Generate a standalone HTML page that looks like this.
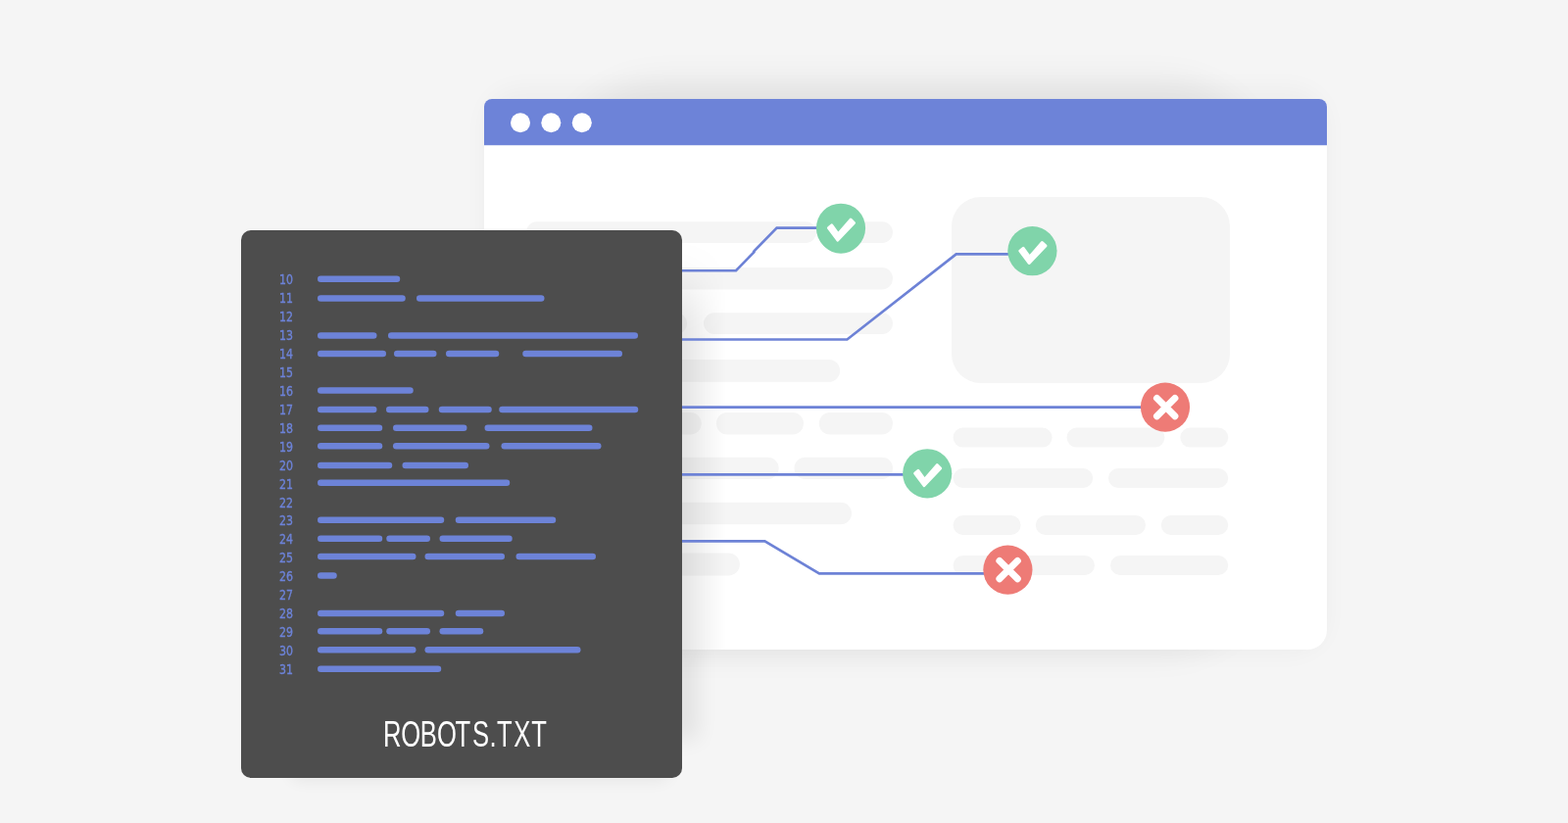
<!DOCTYPE html>
<html lang="en">
<head>
<meta charset="utf-8">
<title>ROBOTS.TXT</title>
<style>
html,body{margin:0;padding:0;background:#f5f5f5;}
body{width:1600px;height:840px;overflow:hidden;position:relative;font-family:"Liberation Sans",sans-serif;}
svg{position:absolute;left:0;top:0;display:block;}
.num{font-family:"DejaVu Sans Condensed","DejaVu Sans","Liberation Sans",sans-serif;font-stretch:condensed;font-size:13.7px;fill:#6d83d8;stroke:#6d83d8;stroke-width:0.35px;}
.title{font-family:"Liberation Sans",sans-serif;font-size:36.1px;fill:#ffffff;}
</style>
</head>
<body>
<svg width="1600" height="840" viewBox="0 0 1600 840">
<defs>
<filter id="bsh" filterUnits="userSpaceOnUse" x="380" y="0" width="1100" height="800"><feGaussianBlur stdDeviation="17"/></filter>
<filter id="bsh2" filterUnits="userSpaceOnUse" x="380" y="0" width="1100" height="800"><feGaussianBlur stdDeviation="12"/></filter>
<filter id="ssh" filterUnits="userSpaceOnUse" x="600" y="600" width="240" height="240"><feGaussianBlur stdDeviation="11"/></filter>
<clipPath id="below"><rect x="696" y="663" width="200" height="177"/></clipPath>
<filter id="csh" filterUnits="userSpaceOnUse" x="200" y="600" width="600" height="240"><feGaussianBlur stdDeviation="8"/></filter>
<filter id="vsh" filterUnits="userSpaceOnUse" x="680" y="150" width="80" height="800"><feGaussianBlur stdDeviation="0 26"/></filter>
<filter id="gray" filterUnits="userSpaceOnUse" x="240" y="230" width="460" height="570"><feOffset dx="0" dy="0"/></filter>
<linearGradient id="cg" gradientUnits="userSpaceOnUse" x1="696" x2="741" y1="0" y2="0">
<stop offset="0" stop-color="#000" stop-opacity="0.105"/>
<stop offset="0.55" stop-color="#000" stop-opacity="0.04"/>
<stop offset="1" stop-color="#000" stop-opacity="0"/>
</linearGradient>
<linearGradient id="cg2" gradientUnits="userSpaceOnUse" x1="696" x2="736" y1="0" y2="0">
<stop offset="0" stop-color="#000" stop-opacity="0.04"/>
<stop offset="1" stop-color="#000" stop-opacity="0"/>
</linearGradient>
<clipPath id="bclip"><path d="M494 109a8 8 0 0 1 8-8h844a8 8 0 0 1 8 8V643a20 20 0 0 1-20 20H494z"/></clipPath>
</defs>
<rect width="1600" height="840" fill="#f5f5f5"/>
<!-- browser shadow -->
<rect x="494" y="90" width="860" height="577" rx="36" fill="#000" opacity="0.032" filter="url(#bsh2)"/>
<rect x="566" y="80" width="730" height="588" rx="110" fill="#000" opacity="0.05" filter="url(#bsh)"/>
<!-- browser -->
<path d="M494 109a8 8 0 0 1 8-8h844a8 8 0 0 1 8 8V643a20 20 0 0 1-20 20H494z" fill="#ffffff"/>
<path d="M494 109a8 8 0 0 1 8-8h844a8 8 0 0 1 8 8V148.2H494z" fill="#6d83d8"/>
<circle cx="531" cy="125.2" r="10" fill="#fff"/>
<circle cx="562.3" cy="125.2" r="10" fill="#fff"/>
<circle cx="593.8" cy="125.2" r="10" fill="#fff"/>
<g clip-path="url(#bclip)">
<g fill="#f5f5f5">

<rect x="537.00" y="226.30" width="296.00" height="21.60" rx="10.80"/>
<rect x="846.00" y="226.30" width="65.00" height="21.60" rx="10.80"/>
<rect x="537.00" y="273.00" width="374.00" height="22.50" rx="11.25"/>
<rect x="537.00" y="319.20" width="164.00" height="21.80" rx="10.90"/>
<rect x="718.00" y="319.20" width="193.00" height="21.80" rx="10.90"/>
<rect x="537.00" y="367.00" width="320.10" height="22.80" rx="11.40"/>
<rect x="537.00" y="421.00" width="178.70" height="22.50" rx="11.25"/>
<rect x="730.90" y="421.00" width="89.10" height="22.50" rx="11.25"/>
<rect x="835.80" y="421.00" width="75.20" height="22.50" rx="11.25"/>
<rect x="537.00" y="466.70" width="257.60" height="22.40" rx="11.20"/>
<rect x="810.50" y="466.70" width="100.50" height="22.40" rx="11.20"/>
<rect x="537.00" y="512.70" width="332.00" height="22.50" rx="11.25"/>
<rect x="537.00" y="564.60" width="217.90" height="22.80" rx="11.40"/>
<rect x="971" y="201" width="284" height="190" rx="30"/>
<rect x="972.60" y="436.50" width="101.00" height="20.10" rx="10.05"/>
<rect x="1088.60" y="436.50" width="99.80" height="20.10" rx="10.05"/>
<rect x="1204.40" y="436.50" width="48.80" height="20.10" rx="10.05"/>
<rect x="972.60" y="478.00" width="142.60" height="20.00" rx="10.00"/>
<rect x="1131.00" y="478.00" width="122.20" height="20.00" rx="10.00"/>
<rect x="972.60" y="526.00" width="69.00" height="20.00" rx="10.00"/>
<rect x="1056.80" y="526.00" width="112.20" height="20.00" rx="10.00"/>
<rect x="1184.80" y="526.00" width="68.40" height="20.00" rx="10.00"/>
<rect x="972.60" y="567.00" width="144.40" height="20.00" rx="10.00"/>
<rect x="1133.00" y="567.00" width="120.20" height="20.00" rx="10.00"/>
</g>
<rect x="690" y="298" width="52" height="560" fill="url(#cg)" filter="url(#vsh)"/>
</g>
<g clip-path="url(#below)"><rect x="650" y="650" width="62" height="105" fill="#000" opacity="0.075" filter="url(#ssh)"/></g>
<g fill="none" stroke="#6d82d6" stroke-width="2.6" stroke-linejoin="miter">
<path d="M690 276.2H751L770.1 256.6M768.5 257.3L792.6 232.6H840"/>
<path d="M690 346.45H864.4L975.7 259.4H1040"/>
<path d="M690 415.6H1170"/>
<path d="M690 484.4H930"/>
<path d="M690 552.4H780.4L836 585.4H1010"/>
</g>
<circle cx="858" cy="235.3" r="23.4" fill="#80d4aa"/>
<circle cx="858" cy="232.8" r="25.1" fill="#80d4aa"/><polygon points="845.45,232.63 848.72,229.89 855.19,238.92 868.00,224.18 871.49,227.55 854.83,245.08" fill="#fff" stroke="#fff" stroke-width="3.0" stroke-linejoin="round"/>
<circle cx="1053.4" cy="256.2" r="25.1" fill="#80d4aa"/><polygon points="1040.85,256.03 1044.12,253.29 1050.59,262.32 1063.40,247.58 1066.89,250.95 1050.23,268.48" fill="#fff" stroke="#fff" stroke-width="3.0" stroke-linejoin="round"/>
<circle cx="946.2" cy="483.3" r="25.1" fill="#80d4aa"/><polygon points="933.65,483.13 936.92,480.39 943.39,489.42 956.20,474.68 959.69,478.05 943.03,495.58" fill="#fff" stroke="#fff" stroke-width="3.0" stroke-linejoin="round"/>
<circle cx="1189" cy="415.6" r="25.1" fill="#ee7b76"/><path d="M1180.5 406.4L1198.9 424.8M1198.9 406.4L1180.5 424.8" fill="none" stroke="#fff" stroke-width="7" stroke-linecap="round"/>
<circle cx="1028.4" cy="581.6" r="25.1" fill="#ee7b76"/><path d="M1019.9 572.4L1038.3 590.8M1038.3 572.4L1019.9 590.8" fill="none" stroke="#fff" stroke-width="7" stroke-linecap="round"/>
<rect x="296" y="740" width="388" height="57" rx="10" fill="#000" opacity="0.06" filter="url(#csh)"/>
<rect x="246" y="235" width="450" height="559" rx="10" fill="#4d4d4d"/>
<g filter="url(#gray)">
<g class="num">
<text x="285" y="290.00" textLength="14" lengthAdjust="spacingAndGlyphs">10</text>
<text x="285" y="308.96" textLength="14" lengthAdjust="spacingAndGlyphs">11</text>
<text x="285" y="327.92" textLength="14" lengthAdjust="spacingAndGlyphs">12</text>
<text x="285" y="346.88" textLength="14" lengthAdjust="spacingAndGlyphs">13</text>
<text x="285" y="365.84" textLength="14" lengthAdjust="spacingAndGlyphs">14</text>
<text x="285" y="384.80" textLength="14" lengthAdjust="spacingAndGlyphs">15</text>
<text x="285" y="403.76" textLength="14" lengthAdjust="spacingAndGlyphs">16</text>
<text x="285" y="422.72" textLength="14" lengthAdjust="spacingAndGlyphs">17</text>
<text x="285" y="441.68" textLength="14" lengthAdjust="spacingAndGlyphs">18</text>
<text x="285" y="460.64" textLength="14" lengthAdjust="spacingAndGlyphs">19</text>
<text x="285" y="479.60" textLength="14" lengthAdjust="spacingAndGlyphs">20</text>
<text x="285" y="498.56" textLength="14" lengthAdjust="spacingAndGlyphs">21</text>
<text x="285" y="517.52" textLength="14" lengthAdjust="spacingAndGlyphs">22</text>
<text x="285" y="536.48" textLength="14" lengthAdjust="spacingAndGlyphs">23</text>
<text x="285" y="555.44" textLength="14" lengthAdjust="spacingAndGlyphs">24</text>
<text x="285" y="574.40" textLength="14" lengthAdjust="spacingAndGlyphs">25</text>
<text x="285" y="593.36" textLength="14" lengthAdjust="spacingAndGlyphs">26</text>
<text x="285" y="612.32" textLength="14" lengthAdjust="spacingAndGlyphs">27</text>
<text x="285" y="631.28" textLength="14" lengthAdjust="spacingAndGlyphs">28</text>
<text x="285" y="650.24" textLength="14" lengthAdjust="spacingAndGlyphs">29</text>
<text x="285" y="669.20" textLength="14" lengthAdjust="spacingAndGlyphs">30</text>
<text x="285" y="688.16" textLength="14" lengthAdjust="spacingAndGlyphs">31</text>
</g>
<text class="title" transform="translate(0 761.6) scale(0.71 1)" x="550.76 576.39 603.91 628.15 654.34 678.89 703.51 713.98 738.29 763.84" y="0">ROBOTS.TXT</text>
</g>
<g fill="#6d83d8">
<rect x="324.00" y="281.45" width="84.25" height="6.60" rx="3.30"/>
<rect x="324.00" y="301.20" width="89.75" height="6.60" rx="3.30"/>
<rect x="425.00" y="301.20" width="130.50" height="6.60" rx="3.30"/>
<rect x="324.00" y="339.20" width="60.50" height="6.60" rx="3.30"/>
<rect x="396.00" y="339.20" width="255.00" height="6.60" rx="3.30"/>
<rect x="324.00" y="357.70" width="70.00" height="6.60" rx="3.30"/>
<rect x="402.00" y="357.70" width="43.50" height="6.60" rx="3.30"/>
<rect x="455.00" y="357.70" width="54.25" height="6.60" rx="3.30"/>
<rect x="533.25" y="357.70" width="101.75" height="6.60" rx="3.30"/>
<rect x="324.00" y="395.20" width="97.75" height="6.60" rx="3.30"/>
<rect x="324.00" y="414.70" width="60.50" height="6.60" rx="3.30"/>
<rect x="394.00" y="414.70" width="43.50" height="6.60" rx="3.30"/>
<rect x="447.75" y="414.70" width="54.00" height="6.60" rx="3.30"/>
<rect x="509.25" y="414.70" width="142.00" height="6.60" rx="3.30"/>
<rect x="324.00" y="433.45" width="66.25" height="6.60" rx="3.30"/>
<rect x="401.00" y="433.45" width="75.50" height="6.60" rx="3.30"/>
<rect x="494.50" y="433.45" width="110.00" height="6.60" rx="3.30"/>
<rect x="324.00" y="451.95" width="66.25" height="6.60" rx="3.30"/>
<rect x="401.00" y="451.95" width="98.50" height="6.60" rx="3.30"/>
<rect x="511.50" y="451.95" width="102.00" height="6.60" rx="3.30"/>
<rect x="324.00" y="471.70" width="76.25" height="6.60" rx="3.30"/>
<rect x="410.50" y="471.70" width="67.50" height="6.60" rx="3.30"/>
<rect x="324.00" y="489.45" width="196.25" height="6.60" rx="3.30"/>
<rect x="324.00" y="527.45" width="129.25" height="6.60" rx="3.30"/>
<rect x="464.75" y="527.45" width="102.50" height="6.60" rx="3.30"/>
<rect x="324.00" y="546.45" width="66.25" height="6.60" rx="3.30"/>
<rect x="394.25" y="546.45" width="44.75" height="6.60" rx="3.30"/>
<rect x="448.50" y="546.45" width="74.25" height="6.60" rx="3.30"/>
<rect x="324.00" y="564.70" width="100.50" height="6.60" rx="3.30"/>
<rect x="433.50" y="564.70" width="81.50" height="6.60" rx="3.30"/>
<rect x="526.50" y="564.70" width="81.50" height="6.60" rx="3.30"/>
<rect x="324.00" y="584.20" width="19.75" height="6.60" rx="3.30"/>
<rect x="324.00" y="622.70" width="129.25" height="6.60" rx="3.30"/>
<rect x="464.75" y="622.70" width="50.25" height="6.60" rx="3.30"/>
<rect x="324.00" y="640.95" width="66.25" height="6.60" rx="3.30"/>
<rect x="394.25" y="640.95" width="44.75" height="6.60" rx="3.30"/>
<rect x="448.50" y="640.95" width="44.75" height="6.60" rx="3.30"/>
<rect x="324.00" y="659.95" width="100.50" height="6.60" rx="3.30"/>
<rect x="433.50" y="659.95" width="159.00" height="6.60" rx="3.30"/>
<rect x="324.00" y="679.45" width="126.25" height="6.60" rx="3.30"/>
</g>
</svg>
</body>
</html>
